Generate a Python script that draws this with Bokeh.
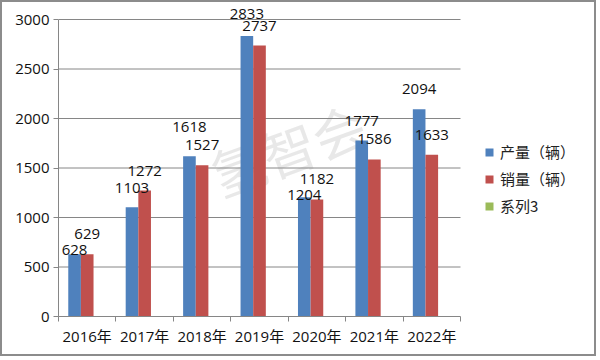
import numpy as np
from bokeh.plotting import figure
from bokeh.models import (Range1d, FixedTicker, ColumnDataSource, Legend, LegendItem, Label)
from bokeh.core.properties import value
from bokeh.embed import file_html
from bokeh.resources import INLINE

# ---- data ----
years = ["2016年", "2017年", "2018年", "2019年", "2020年", "2021年", "2022年"]
production = [628, 1103, 1618, 2833, 1204, 1777, 2094]   # 产量（辆）
sales = [629, 1272, 1527, 2737, 1182, 1586, 1633]        # 销量（辆）
series3 = [None] * len(years)                            # 系列3 (no values)
y_ticks = [0, 500, 1000, 1500, 2000, 2500, 3000]

# label nudges in px above bar top (style only)
prod_label_lift = [4, 19, 29, 22, 2, 20, 20]
sales_label_lift = [20] * len(sales)

BLUE, RED, GREEN = "#4F81BD", "#C0504D", "#9BBB59"
GRID = "#868686"
FONT = "Open Sans, Noto Sans CJK SC"
CJK = "Noto Sans CJK SC"

n = len(years)
centers = np.arange(n) + 0.5
bw = 0.22
y_max = y_ticks[-1]

W, H = 596, 356
left_b, right_b, top_b, bot_b = 56, 4, 1, 42
plot_w = 402.0            # px width of the category area
plot_h = 297.0            # px height of 0..3000
frame_w = W - left_b - right_b
frame_h = H - top_b - bot_b
x_end = frame_w * n / plot_w
y_end = frame_h * y_max / plot_h

p = figure(width=W, height=H, output_backend="svg", toolbar_location=None,
           x_range=Range1d(0, x_end), y_range=Range1d(0, y_end),
           min_border_left=left_b, min_border_right=right_b,
           min_border_top=top_b, min_border_bottom=bot_b)
p.styles = {"border": "2px solid #8c8c8c"}
p.outline_line_color = None
p.background_fill_color = "white"
p.border_fill_color = "white"
p.xgrid.grid_line_color = None
p.ygrid.grid_line_color = None

# watermark
wm = Label(x=4.0, y=1700, text="氢智会", angle=20, angle_units="deg",
           text_font=CJK, text_font_size="54px", text_color="#d8d8d8", text_alpha=0.6,
           text_align="center", text_baseline="middle", level="underlay")
p.add_layout(wm)

# horizontal gridlines over the category area only
gl = [t for t in y_ticks if t > 0]
p.segment(x0=[0] * len(gl), x1=[n] * len(gl), y0=gl, y1=gl, line_color=GRID, line_width=1)

src_p = ColumnDataSource(dict(x=centers - bw, top=production, lab=[str(v) for v in production],
                              dy=[-d for d in prod_label_lift]))
src_s = ColumnDataSource(dict(x=centers, top=sales, lab=[str(v) for v in sales],
                              dy=[-d for d in sales_label_lift]))
src_3 = ColumnDataSource(dict(x=centers + bw, top=[np.nan if v is None else v for v in series3]))

r1 = p.vbar(x="x", top="top", width=bw, source=src_p, fill_color=BLUE, line_color=None)
r2 = p.vbar(x="x", top="top", width=bw, source=src_s, fill_color=RED, line_color=None)
r3 = p.vbar(x="x", top="top", width=bw, source=src_3, fill_color=GREEN, line_color=None)

for src in (src_p, src_s):
    p.text(x="x", y="top", text="lab", source=src, y_offset="dy",
           text_align="center", text_baseline="middle",
           text_font=value("Open Sans"), text_font_size="15px", text_color="#111111")

# axes
p.yaxis.ticker = FixedTicker(ticks=y_ticks)
p.yaxis.bounds = (0, y_max)
p.yaxis.major_tick_out = 5
p.yaxis.major_tick_in = 0
p.yaxis.minor_tick_line_color = None
p.yaxis.axis_line_color = GRID
p.yaxis.major_tick_line_color = GRID
p.yaxis.major_label_text_font = "Open Sans"
p.yaxis.major_label_text_font_size = "15px"
p.yaxis.major_label_text_color = "#111111"
p.yaxis.major_label_standoff = 4

p.xaxis.ticker = FixedTicker(ticks=list(centers), minor_ticks=list(range(n + 1)))
p.xaxis.bounds = (0, n)
p.xaxis.major_label_overrides = {float(c): y for c, y in zip(centers, years)}
p.xaxis.major_tick_out = 0
p.xaxis.major_tick_in = 0
p.xaxis.minor_tick_out = 5
p.xaxis.minor_tick_in = 0
p.xaxis.minor_tick_line_color = GRID
p.xaxis.axis_line_color = GRID
p.xaxis.major_label_text_font = FONT
p.xaxis.major_label_text_font_size = "15px"
p.xaxis.major_label_text_color = "#111111"
p.xaxis.major_label_standoff = 4

legend = Legend(items=[LegendItem(label="产量（辆）", renderers=[r1]),
                       LegendItem(label="销量（辆）", renderers=[r2]),
                       LegendItem(label="系列3", renderers=[r3])],
                location=(426, 100), padding=0, margin=0, spacing=6,
                glyph_width=10, glyph_height=10, label_height=20, label_standoff=6,
                label_text_font=CJK, label_text_font_size="15px", label_text_color="#222222",
                border_line_color=None, background_fill_alpha=0)
p.add_layout(legend)

open("out.html", "w").write(file_html(p, INLINE))
